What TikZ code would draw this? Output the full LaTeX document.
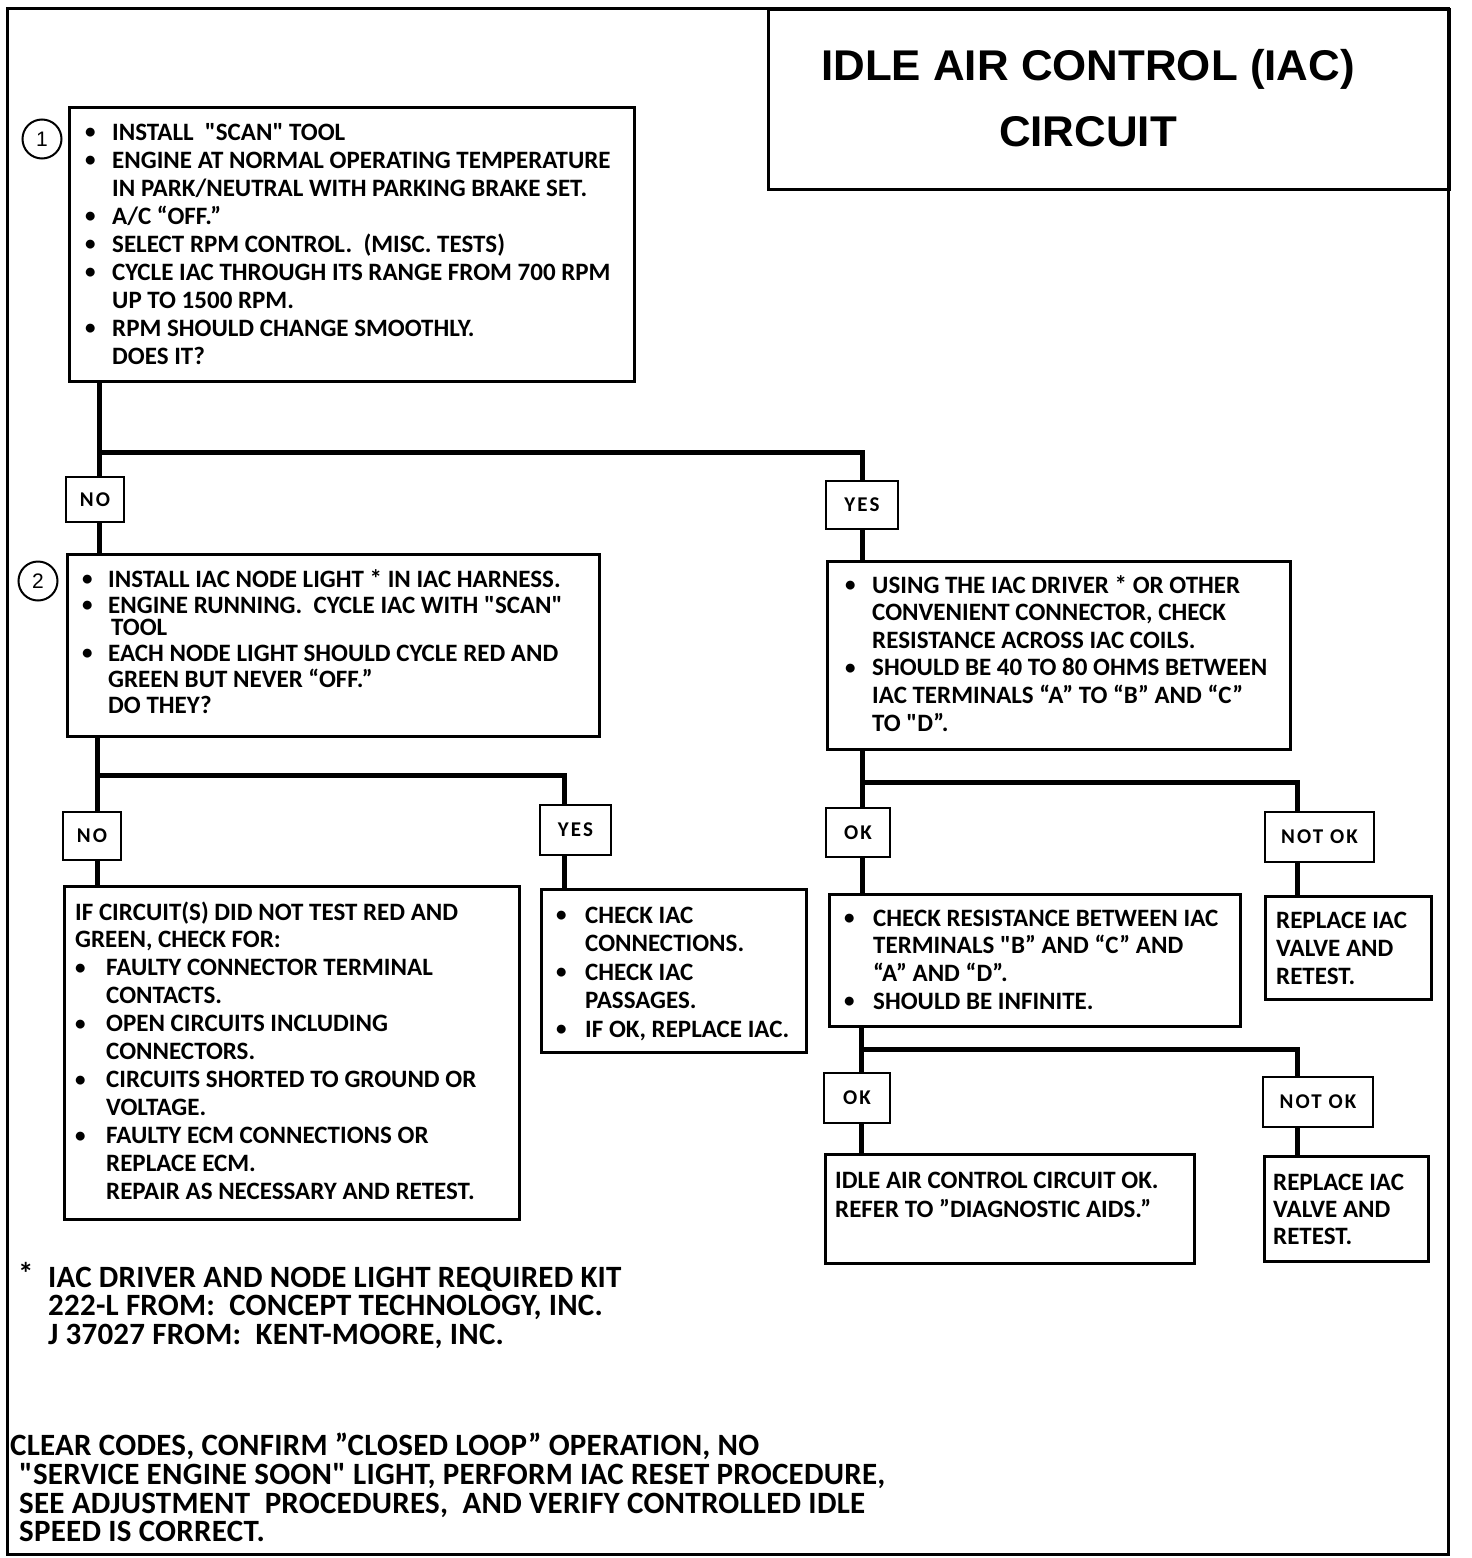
\documentclass[tikz,border=0pt]{standalone}
\usepackage{fontspec}
\setmainfont{Carlito}[Ligatures=TeXOff]
\newfontfamily\ttlfont{Liberation Sans}[FakeStretch=1.02]
\newfontfamily\numfont{Liberation Sans}
\newfontfamily\lblfont{Carlito}[LetterSpace=10,Ligatures=TeXOff]
\usetikzlibrary{backgrounds}
\newlength\bulw
\newcommand\Bu{\makebox[\bulw][l]{\raisebox{1.2pt}{\fontsize{21}{21}\selectfont •}}}
\newcommand\In{\hspace*{\bulw}}
\newcommand\TL[1]{\begin{tabular}[t]{@{}l@{}}#1\end{tabular}}
\begin{document}
\begin{tikzpicture}[x=1pt,y=-1pt,
  box/.style={draw, line width=2.5pt, fill=white, inner sep=0pt, anchor=north west},
  lbl/.style={draw, line width=2.5pt, fill=white, inner sep=0pt, text depth=-2pt,
    font=\lblfont\bfseries\fontsize{21}{21}\selectfont},
  txt/.style={anchor=base west, inner sep=0pt, font=\bfseries\fontsize{25}{#1}\selectfont},
  big/.style={anchor=base west, inner sep=0pt, font=\bfseries\fontsize{31}{#1}\selectfont},
  conn/.style={line width=5pt, line join=miter},
  circ/.style={draw, circle, line width=2pt, minimum size=39pt, inner sep=0pt,
    font=\numfont\fontsize{21}{21}\selectfont}]
\useasboundingbox (0,0) rectangle (1472,1558);
\draw[line width=3pt] (7,8) rectangle (1448,1554);
% title
\node[draw, line width=2.5pt, inner sep=0pt, anchor=north west, minimum width=681pt, minimum height=180pt] (tbox) at (767,8) {};
\node[anchor=base, inner sep=0pt, font=\ttlfont\bfseries\fontsize{43}{66}\selectfont] (title) at (1088,80)
  {\begin{tabular}[t]{@{}c@{}}IDLE AIR CONTROL (IAC)\\CIRCUIT\end{tabular}};
% boxes
\node[box, minimum width=565pt, minimum height=274pt] (b1) at (68,106) {};
\node[box, minimum width=532pt, minimum height=182pt] (b2) at (66,553) {};
\node[box, minimum width=463pt, minimum height=188pt] (b3) at (826,560) {};
\node[box, minimum width=455pt, minimum height=333pt] (b4) at (63,885) {};
\node[box, minimum width=265pt, minimum height=163pt] (b5) at (540,888) {};
\node[box, minimum width=411pt, minimum height=132pt] (b6) at (828,893) {};
\node[box, minimum width=166pt, minimum height=103pt] (b7) at (1264,895) {};
\node[box, minimum width=369pt, minimum height=109pt] (b8) at (824,1153) {};
\node[box, minimum width=164pt, minimum height=105pt] (b9) at (1263,1155) {};
% labels
\node[lbl, minimum width=58pt, minimum height=45pt] (no1) at (95,499.5) {NO};
\node[lbl, minimum width=72pt, minimum height=48pt] (yes1) at (862,505) {YES};
\node[lbl, minimum width=58pt, minimum height=48pt] (no2) at (92,836) {NO};
\node[lbl, minimum width=71pt, minimum height=50pt] (yes2) at (575.5,830) {YES};
\node[lbl, minimum width=64pt, minimum height=49pt] (ok1) at (858,832.5) {OK};
\node[lbl, minimum width=109pt, minimum height=50pt] (nok1) at (1319.5,837) {NOT OK};
\node[lbl, minimum width=66pt, minimum height=50pt] (ok2) at (857,1098) {OK};
\node[lbl, minimum width=110pt, minimum height=50pt] (nok2) at (1318,1102) {NOT OK};
% circles
\node[circ] (c1) at (42,139) {1};
\node[circ] (c2) at (38,581) {2};
% junctions
\coordinate (j1) at (99,452);
\coordinate (j2) at (97,775);
\coordinate (j2r) at (564,775);
\coordinate (j3) at (862,782);
\coordinate (j3r) at (1297,782);
\coordinate (j4) at (861,1049);
\coordinate (j4r) at (1297,1049);
\begin{scope}[on background layer]
\draw[conn] (j1 |- b1.south) -- (j1 |- b2.north);
\draw[conn] (j1) -| (yes1.north);
\draw[conn] (yes1.south) -- (yes1.south |- b3.north);
\draw[conn] (j2 |- b2.south) -- (j2 |- b4.north);
\draw[conn] (j2) -- (j2r) -- (j2r |- yes2.north);
\draw[conn] (j2r |- yes2.south) -- (j2r |- b5.north);
\draw[conn] (j3 |- b3.south) -- (j3 |- b6.north);
\draw[conn] (j3) -- (j3r) -- (j3r |- nok1.north);
\draw[conn] (j3r |- nok1.south) -- (j3r |- b7.north);
\draw[conn] (j4 |- b6.south) -- (j4 |- b8.north);
\draw[conn] (j4) -- (j4r) -- (j4r |- nok2.north);
\draw[conn] (j4r |- nok2.south) -- (j4r |- b9.north);
\end{scope}
% texts
\node[txt=28] (t1) at (85,140) {\setlength\bulw{27pt}\TL{%
\Bu INSTALL~ "SCAN" TOOL\\
\Bu ENGINE AT NORMAL OPERATING TEMPERATURE\\
\In IN PARK/NEUTRAL WITH PARKING BRAKE SET.\\
\Bu A/C “OFF.”\\
\Bu SELECT RPM CONTROL.~ (MISC. TESTS)\\
\Bu CYCLE IAC THROUGH ITS RANGE FROM 700 RPM\\
\In UP TO 1500 RPM.\\
\Bu RPM SHOULD CHANGE SMOOTHLY.\\
\In DOES IT?}};
\node[txt=26] (t2) at (82,587) {\setlength\bulw{26pt}\TL{%
\Bu INSTALL IAC NODE LIGHT * IN IAC HARNESS.\\
\Bu ENGINE RUNNING.~ CYCLE IAC WITH "SCAN"\\[-4pt]
\In\hspace*{3pt}TOOL\\
\Bu EACH NODE LIGHT SHOULD CYCLE RED AND\\
\In GREEN BUT NEVER “OFF.”\\
\In DO THEY?}};
\node[txt=27.6] (t3) at (845,593) {\setlength\bulw{27pt}\TL{%
\Bu USING THE IAC DRIVER * OR OTHER\\
\In CONVENIENT CONNECTOR, CHECK\\
\In RESISTANCE ACROSS IAC COILS.\\
\Bu SHOULD BE 40 TO 80 OHMS BETWEEN\\
\In IAC TERMINALS “A” TO “B” AND “C”\\
\In TO "D”.}};
\node[txt=27.9] (t4) at (75,920) {\setlength\bulw{31pt}\TL{%
IF CIRCUIT(S) DID NOT TEST RED AND\\
GREEN, CHECK FOR:\\
\Bu FAULTY CONNECTOR TERMINAL\\
\In CONTACTS.\\
\Bu OPEN CIRCUITS INCLUDING\\
\In CONNECTORS.\\
\Bu CIRCUITS SHORTED TO GROUND OR\\
\In VOLTAGE.\\
\Bu FAULTY ECM CONNECTIONS OR\\
\In REPLACE ECM.\\
\In REPAIR AS NECESSARY AND RETEST.}};
\node[txt=28.5] (t5) at (556,923) {\setlength\bulw{29pt}\TL{%
\Bu CHECK IAC\\
\In CONNECTIONS.\\
\Bu CHECK IAC\\
\In PASSAGES.\\
\Bu IF OK, REPLACE IAC.}};
\node[txt=27.7] (t6) at (844,926) {\setlength\bulw{29pt}\TL{%
\Bu CHECK RESISTANCE BETWEEN IAC\\
\In TERMINALS "B” AND “C” AND\\
\In “A” AND “D”.\\
\Bu SHOULD BE INFINITE.}};
\node[txt=28] (t7) at (1276,928) {\TL{REPLACE IAC\\VALVE AND\\RETEST.}};
\node[txt=29] (t8) at (835,1188) {\TL{IDLE AIR CONTROL CIRCUIT OK.\\REFER TO ”DIAGNOSTIC AIDS.”}};
\node[txt=27] (t9) at (1273,1190) {\TL{REPLACE IAC\\VALVE AND\\RETEST.}};
% footnote
\node[big=31] (ast) at (18,1284) {*};
\node[big=27.5] (foot) at (48,1287) {\addfontfeature{LetterSpace=0.7}\TL{%
IAC DRIVER AND NODE LIGHT REQUIRED KIT\\
222-L FROM:~ CONCEPT TECHNOLOGY, INC.\\
J 37027 FROM:~ KENT-MOORE, INC.}};
\node[big=27.7] (final) at (19,1455) {\addfontfeature{LetterSpace=0.8}\TL{%
\hspace*{-9pt}CLEAR CODES, CONFIRM ”CLOSED LOOP” OPERATION, NO\\
"SERVICE ENGINE SOON" LIGHT, PERFORM IAC RESET PROCEDURE,\\
SEE ADJUSTMENT~ PROCEDURES,~ AND VERIFY CONTROLLED IDLE\\
SPEED IS CORRECT.}};
\end{tikzpicture}
\end{document}
